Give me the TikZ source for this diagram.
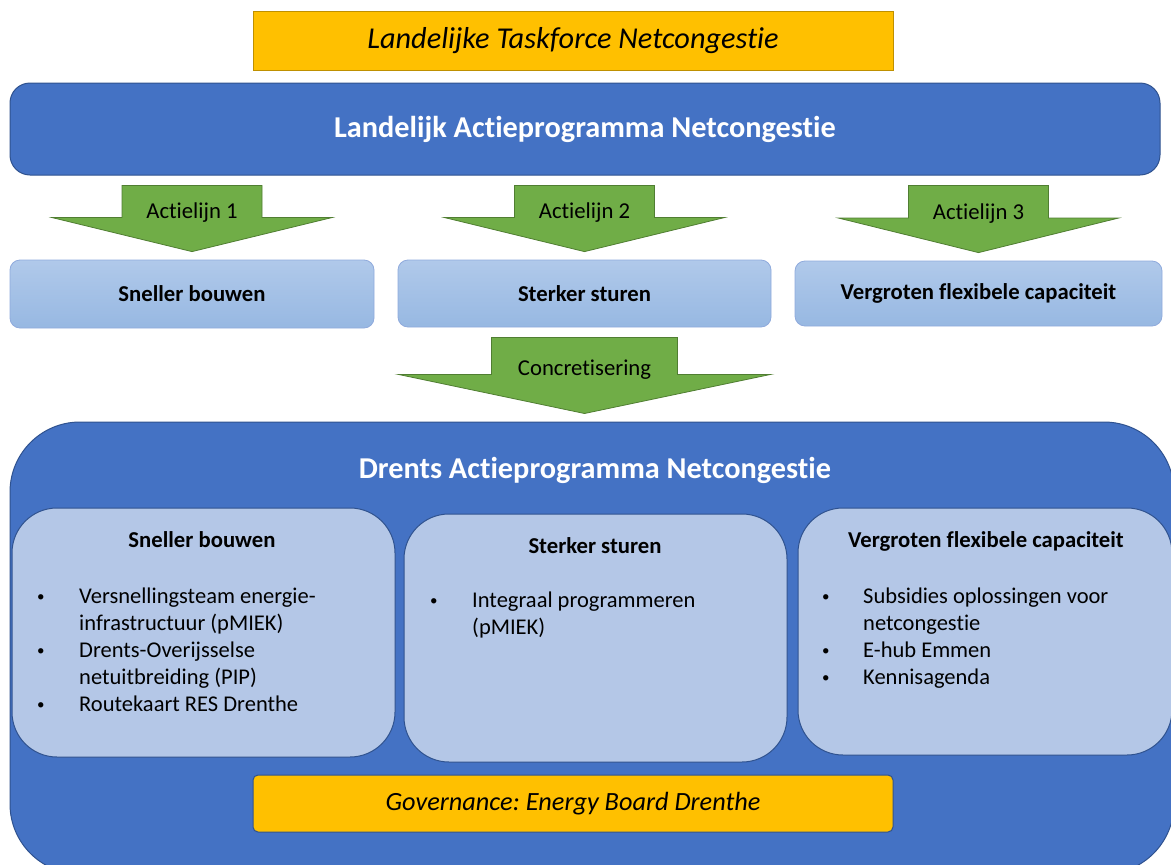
\documentclass[tikz,border=0pt]{standalone}
\usepackage{fontspec}
\setmainfont{Carlito}[Ligatures=NoCommon]
\usetikzlibrary{positioning,calc}
\definecolor{myblue}{HTML}{4472C4}
\definecolor{mybluedark}{HTML}{2F528F}
\definecolor{mygold}{HTML}{FFC000}
\definecolor{mygolddark}{HTML}{BF9000}
\definecolor{mygreen}{HTML}{70AD47}
\definecolor{mygreendark}{HTML}{507E32}
\definecolor{mylight}{HTML}{B4C7E7}
\definecolor{mylighttop}{HTML}{B0C9EA}
\definecolor{mylightbot}{HTML}{97B8E2}
\definecolor{mylightdark}{HTML}{8FAADC}

\tikzset{
    goldbox/.style={draw=mygolddark, fill=mygold, line width=1pt, inner sep=0pt},
    bluebox/.style={draw=mybluedark, fill=myblue, line width=1pt, inner sep=0pt,
        text=white, font=\fontsize{30.3}{34}\selectfont\bfseries},
    lightbox/.style={draw=mylightdark, top color=mylighttop, bottom color=mylightbot,
        rounded corners=10pt, line width=0.8pt, inner sep=0pt,
        font=\fontsize{22.7}{27}\selectfont\bfseries},
    innerbox/.style={draw=mybluedark, fill=mylight, rounded corners=45pt, line width=1pt, inner sep=0pt},
    boxtitle/.style={font=\fontsize{22.7}{27}\selectfont\bfseries},
    bullettext/.style={inner sep=0pt, anchor=base west, font=\fontsize{22.5}{27}\selectfont},
    arrowshape/.style={draw=mygreendark, fill=mygreen, line width=0.8pt},
    arrowlabel/.style={inner sep=0pt, font=\fontsize{22.7}{26}\selectfont}
}

% small bullet as in the lists
\newcommand{\blt}{\raisebox{2pt}{\fontsize{15}{15}\selectfont\textbullet}}

% block arrow: from node, to node, stem half width, head half width, label
\newcommand{\blockarrow}[5]{%
    \draw[arrowshape] let \p1=(#1.south), \p2=(#2.north), \p3=($(#1.south)!0.5!(#2.north)$) in
        (\x2-#3,\y1-10pt) -- (\x2+#3,\y1-10pt) -- (\x2+#3,\y3) -- (\x2+#4,\y3)
        -- (\x2,\y2+8pt) -- (\x2-#4,\y3) -- (\x2-#3,\y3) -- cycle
        (\x2,\y3-1pt) node[arrowlabel, anchor=base] {#5};
}

\begin{document}
\begin{tikzpicture}[x=1pt, y=-1pt]
    \useasboundingbox (0,0) rectangle (1171,865);

    % Landelijk niveau
    \node[goldbox, minimum width=640pt, minimum height=59pt,
        font=\fontsize{30.3}{34}\selectfont\itshape] (ltn) at (573,40.5) {Landelijke Taskforce Netcongestie};
    \node[bluebox, rounded corners=20pt, minimum width=1150pt, minimum height=92pt] (lap) at (585,129)
        {Landelijk Actieprogramma Netcongestie};

    % De drie actielijnen
    \node[lightbox, minimum width=364pt, minimum height=68pt] (lsb) at (192,294) {Sneller bouwen};
    \node[lightbox, minimum width=373pt, minimum height=67pt] (lss) at (584.5,293.5) {Sterker sturen};
    \node[lightbox, minimum width=367pt, minimum height=65pt] (lvf) at (978.5,293.5) {Vergroten flexibele capaciteit};

    \blockarrow{lap}{lsb}{70pt}{140pt}{Actielijn 1}
    \blockarrow{lap}{lss}{70pt}{140pt}{Actielijn 2}
    \blockarrow{lap}{lvf}{70pt}{140pt}{Actielijn 3}

    % Drents niveau
    \node[bluebox, rounded corners=70pt, minimum width=1164pt, minimum height=452pt] (dap) at (592,648) {};
    \node[bluebox, fill=none, draw=none] (daptitle) at (595,470) {Drents Actieprogramma Netcongestie};
    \coordinate (dtop) at (dap.north -| lss.north);
    \blockarrow{lss}{dtop}{93pt}{186pt}{Concretisering}

    \node[innerbox, minimum width=383pt, minimum height=249pt] (dsb) at (203.5,632.5) {};
    \node[innerbox, minimum width=383pt, minimum height=248pt] (dss) at (595.5,638) {};
    \node[innerbox, minimum width=374pt, minimum height=247pt] (dvf) at (985,631.5) {};

    \node[boxtitle] (dsbtitle) at (202,540) {Sneller bouwen};
    \node[boxtitle] (dsstitle) at (595,546) {Sterker sturen};
    \node[boxtitle] (dvftitle) at (986,541) {Vergroten flexibele capaciteit};

    % Opsommingen
    \node[bullettext] (dsblist) at (37,603) {\begin{tabular}[t]{@{}p{42pt}@{}l@{}}
        \blt & Versnellingsteam energie-\\
             & infrastructuur (pMIEK)\\
        \blt & Drents-Overijsselse\\
             & netuitbreiding (PIP)\\
        \blt & Routekaart RES Drenthe
    \end{tabular}};
    \node[bullettext] (dsslist) at (430,607) {\begin{tabular}[t]{@{}p{42pt}@{}l@{}}
        \blt & Integraal programmeren\\
             & (pMIEK)
    \end{tabular}};
    \node[bullettext] (dvflist) at (822,603) {\begin{tabular}[t]{@{}p{41pt}@{}l@{}}
        \blt & Subsidies oplossingen voor\\
             & netcongestie\\
        \blt & E-hub Emmen\\
        \blt & Kennisagenda
    \end{tabular}};

    % Governance
    \node[goldbox, draw=mybluedark, rounded corners=5pt, minimum width=640pt, minimum height=57pt,
        font=\fontsize{26.3}{30}\selectfont\itshape] (gov) at (573,803.5) {Governance:\ Energy Board Drenthe};
\end{tikzpicture}
\end{document}
